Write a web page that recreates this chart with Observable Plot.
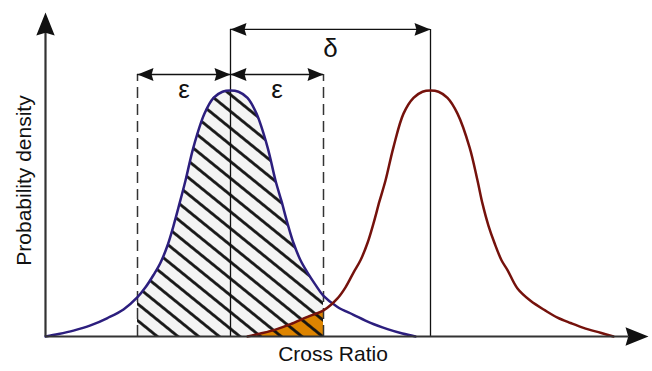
<!DOCTYPE html>
<html><head><meta charset="utf-8">
<script src="https://cdn.jsdelivr.net/npm/d3@7"></script>
<script src="https://cdn.jsdelivr.net/npm/@observablehq/plot@0.6"></script>
<style>body{margin:0;background:#fff}</style>
</head><body><div id="chart"></div>
<script>
// Reference curve (blue)
const blueX = [0, 0.13, 0.28, 0.45, 0.62, 0.78, 0.92, 1.00, 1.08, 1.15, 1.22, 1.28, 1.34, 1.40, 1.48, 1.59, 1.68, 1.77, 1.85, 1.93, 2.02, 2.11, 2.22, 2.30, 2.36, 2.42, 2.48, 2.55, 2.62, 2.70, 2.78, 2.92, 3.08, 3.25, 3.42, 3.57, 3.70];
const blueY = [0, 0.01, 0.024, 0.045, 0.075, 0.11, 0.16, 0.20, 0.25, 0.30, 0.37, 0.45, 0.54, 0.634, 0.77, 0.906, 0.97, 0.995, 1, 0.995, 0.97, 0.906, 0.77, 0.634, 0.55, 0.46, 0.38, 0.31, 0.26, 0.21, 0.165, 0.12, 0.088, 0.055, 0.03, 0.012, 0];
// Shifted curve (red)
const redX = [2.02, 2.15, 2.30, 2.45, 2.62, 2.78, 2.92, 3.00, 3.08, 3.15, 3.22, 3.28, 3.34, 3.40, 3.48, 3.58, 3.68, 3.77, 3.85, 3.93, 4.02, 4.12, 4.24, 4.32, 4.37, 4.43, 4.49, 4.56, 4.62, 4.72, 4.85, 5.00, 5.12, 5.25, 5.38, 5.55, 5.68];
const redY = [0, 0.012, 0.028, 0.05, 0.08, 0.106, 0.155, 0.20, 0.26, 0.31, 0.38, 0.46, 0.55, 0.634, 0.77, 0.906, 0.97, 0.995, 1, 0.995, 0.97, 0.906, 0.77, 0.634, 0.54, 0.45, 0.38, 0.31, 0.27, 0.195, 0.145, 0.105, 0.077, 0.055, 0.035, 0.015, 0];
const meanA = 1.85, meanB = 3.85, epsilon = 0.93;
const xLabel = "Cross Ratio", yLabel = "Probability density";
const epsLabel = "ε", deltaLabel = "δ";

const blue = blueX.map((x, i) => ({x, y: blueY[i]}));
const red = redX.map((x, i) => ({x, y: redY[i]}));
const lo = meanA - epsilon, hi = meanA + epsilon;
const blueIn = blue.filter(d => d.x >= lo - 1e-9 && d.x <= hi + 1e-9);
const redIn = red.filter(d => d.x <= hi + 1e-9);

const yEps = 1.065, yDelta = 1.248, yTop = 1.317, xMax = 6.03;

const arrowHead = {
  draw(ctx, size) {
    const L = Math.sqrt(size / Math.PI), w = L * 0.4;
    ctx.moveTo(0, 0); ctx.lineTo(-L, -w); ctx.lineTo(-0.88 * L, 0); ctx.lineTo(-L, w); ctx.closePath();
  }
};
const curve = "catmull-rom";

const svg = Plot.plot({
  width: 652, height: 371,
  marginLeft: 45, marginRight: 4, marginTop: 12, marginBottom: 35,
  x: {domain: [0, xMax], axis: null},
  y: {domain: [0, yTop], axis: null},
  style: {fontFamily: "'Liberation Sans', Arial, sans-serif", background: "white"},
  marks: [
    Plot.areaY(blueIn, {x: "x", y: "y", fill: "#f4f4f4", curve}),
    Plot.areaY(redIn, {x: "x", y: "y", fill: "#dd8400", curve}),
    Plot.areaY(blueIn, {x: "x", y: "y", fill: "url(#hatch)", curve}),
    Plot.ruleX([lo, hi], {y1: 0, y2: yEps, stroke: "#333", strokeWidth: 1.5, strokeDasharray: "11,6"}),
    Plot.ruleX([meanA, meanB], {y1: 0, y2: yDelta, stroke: "#111", strokeWidth: 1.3}),
    Plot.line(blue, {x: "x", y: "y", stroke: "#2c1e7e", strokeWidth: 2.5, curve}),
    Plot.line(red, {x: "x", y: "y", stroke: "#75120c", strokeWidth: 2.5, curve}),
    Plot.ruleY([yEps], {x1: lo, x2: hi, stroke: "#111", strokeWidth: 1.6}),
    Plot.ruleY([yDelta], {x1: meanA, x2: meanB, stroke: "#111", strokeWidth: 1.3}),
    Plot.ruleY([0], {x1: 0, x2: xMax - 0.2, stroke: "#333", strokeWidth: 2.2}),
    Plot.ruleX([0], {y1: 0, y2: yTop - 0.08, stroke: "#333", strokeWidth: 2.2}),
    Plot.dot([{x: 0, y: yTop, a: -90}, {x: xMax, y: 0, a: 0}], {x: "x", y: "y", rotate: "a", symbol: arrowHead, r: 23, fill: "#111", stroke: "none"}),
    Plot.dot([
      {x: lo, y: yEps, a: 180}, {x: meanA, y: yEps, a: 0}, {x: meanA, y: yEps, a: 180}, {x: hi, y: yEps, a: 0},
      {x: meanA, y: yDelta, a: 180}, {x: meanB, y: yDelta, a: 0}
    ], {x: "x", y: "y", rotate: "a", symbol: arrowHead, r: 16, fill: "#111", stroke: "none"}),
    Plot.text([epsLabel, epsLabel], {x: (d, i) => meanA + (i ? 1 : -1) * epsilon / 2, y: 1.005, text: d => d, fontSize: 26, fill: "#111"}),
    Plot.text([deltaLabel], {x: (meanA + meanB) / 2, y: 1.168, text: d => d, fontSize: 26, fill: "#111"}),
    Plot.text([xLabel], {x: 2.875, y: -0.073, text: d => d, fontSize: 21, fill: "#111"}),
    Plot.text([yLabel], {x: -0.217, y: 0.634, text: d => d, fontSize: 21, rotate: -90, fill: "#111"})
  ]
});
const ns = "http://www.w3.org/2000/svg";
const defs = document.createElementNS(ns, "defs");
defs.innerHTML = `<pattern id="hatch" patternUnits="userSpaceOnUse" width="10" height="13" patternTransform="rotate(39)"><line x1="-1" y1="6.5" x2="11" y2="6.5" stroke="#111" stroke-width="2.8"/></pattern>`;
svg.insertBefore(defs, svg.firstChild);
document.getElementById("chart").appendChild(svg);
</script>
</body></html>
